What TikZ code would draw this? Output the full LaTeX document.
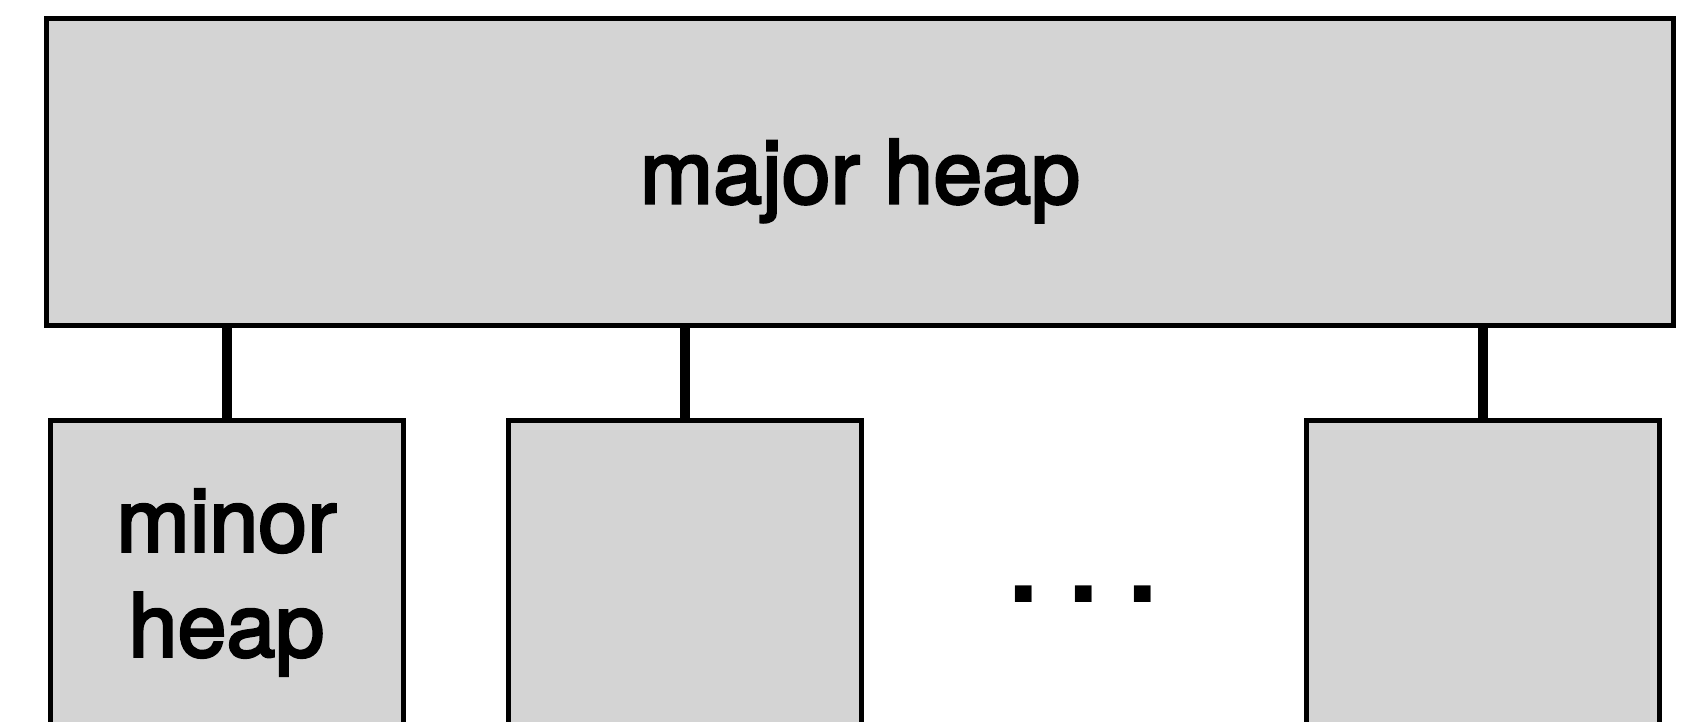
\documentclass[tikz,border=0pt]{standalone}
\usepackage{fontspec}
\setmainfont{TeX Gyre Heros}
\newfontfamily\heapfont[FakeBold=3]{TeX Gyre Heros}
\usepackage{xcolor}
\definecolor{cFill}{HTML}{D4D4D4}
\definecolor{cLine}{HTML}{000000}
\usepackage{tikz}
\usetikzlibrary{positioning}
\tikzset{
  heap-box/.style={draw=cLine,line width=5pt,fill=cFill,inner sep=0pt,
    minimum width=353pt,minimum height=325pt,anchor=north,align=center,
    font=\heapfont\fontsize{88}{105}\selectfont},
  heap-major/.style={minimum width=1627.5pt,minimum height=306.5pt,
    text height=63pt,text depth=0pt},
  heap-link/.style={draw=cLine,line width=10pt},
  heap-dots/.style={font=\fontsize{160}{160}\selectfont,anchor=base,inner sep=0pt},
}

\begin{document}
\begin{tikzpicture}[x=1pt,y=-1pt]
  \useasboundingbox (0,0) rectangle (1691,721);
  \clip (0,0) rectangle (1691,721);
  \node[heap-box,heap-major] (major) at (860,16)    {major heap};
  \node[heap-box]            (minor) at (226.5,417.5) {minor\\heap};
  \node[heap-box]            (dom2)  at (685,417.5)   {};
  \node[heap-box]            (domn)  at (1483,417.5)  {};
  \node[heap-dots]           (dots)  at (1083.5,602.7) {.\kern15pt.\kern15pt.};
  \foreach \d in {minor,dom2,domn}
    \draw[heap-link] (major.south -| \d.north) -- (\d.north);
\end{tikzpicture}
\end{document}
